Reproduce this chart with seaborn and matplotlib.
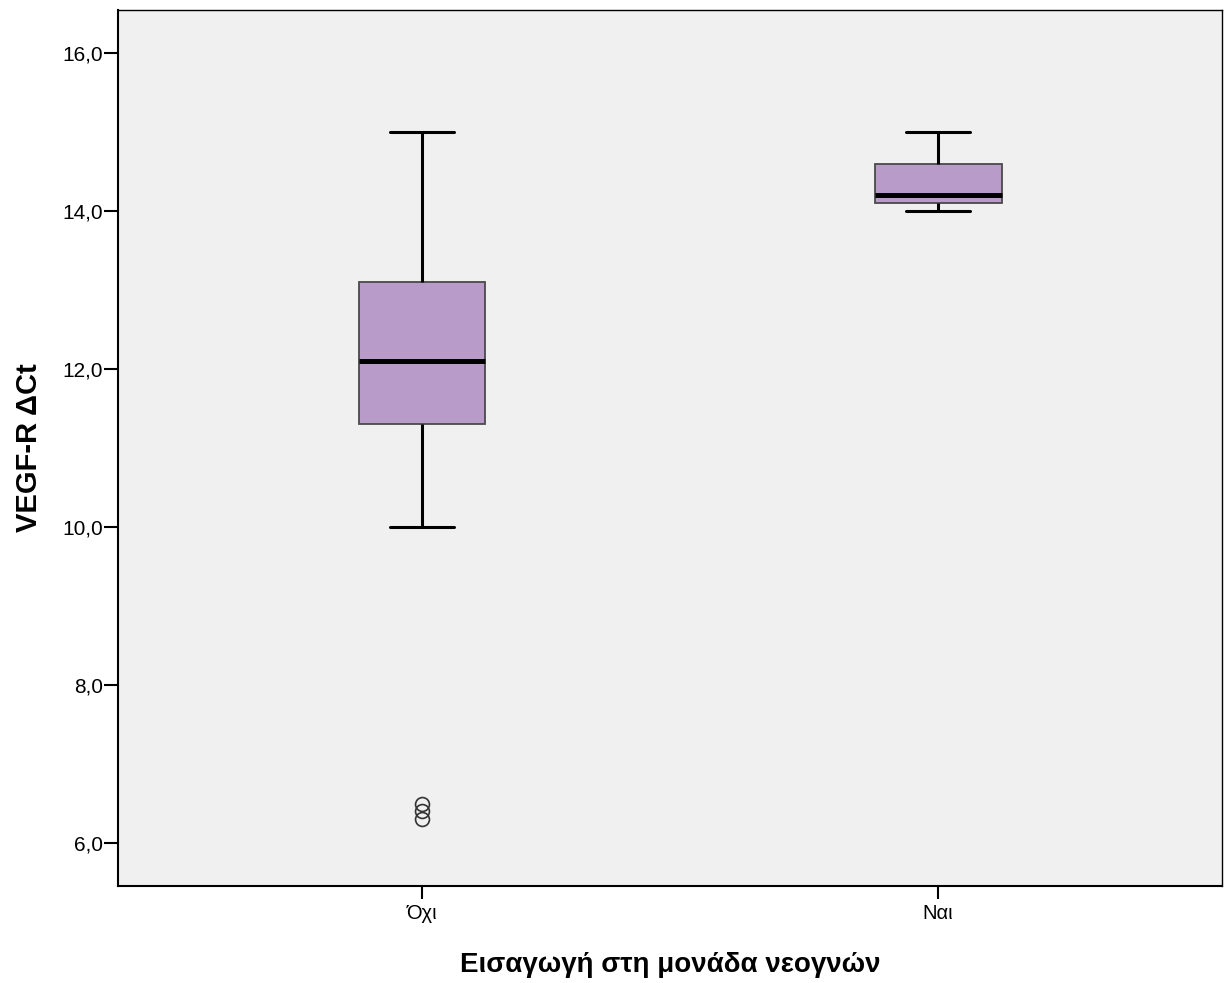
import matplotlib
matplotlib.use("Agg")
import matplotlib.pyplot as plt
from matplotlib.ticker import FuncFormatter, FixedLocator
import seaborn as sns
import pandas as pd

# Data
categories = ["Όχι", "Ναι"]
values_ochi = [6.3, 6.4, 6.5, 10.0, 11.3, 11.5, 11.8, 12.0, 12.1, 12.3,
               12.6, 12.9, 13.1, 13.5, 14.0, 14.5, 15.0]
values_nai = [14.0, 14.05, 14.1, 14.15, 14.2, 14.4, 14.6, 14.8, 15.0]
y_ticks = [6.0, 8.0, 10.0, 12.0, 14.0, 16.0]

df = pd.DataFrame({
    "group": [categories[0]] * len(values_ochi) + [categories[1]] * len(values_nai),
    "value": values_ochi + values_nai,
})

sns.set_style("white")
plt.rcParams["font.family"] = ["Liberation Sans", "DejaVu Sans"]
plt.rcParams["text.color"] = "black"
plt.rcParams["axes.labelcolor"] = "black"
plt.rcParams["xtick.color"] = "black"
plt.rcParams["ytick.color"] = "black"

fig = plt.figure(figsize=(12.29, 9.83), dpi=100)
ax = fig.add_axes([118 / 1229, 1 - 886 / 983, (1222 - 118) / 1229, (886 - 10) / 983])
ax.set_facecolor("#F0F0F0")

sns.boxplot(
    data=df, x="group", y="value", order=categories, ax=ax,
    color="#B89BC9", saturation=1, width=0.246, whis=1.5,
    linecolor="black", linewidth=2.2,
    boxprops={"edgecolor": "#4a4a4a", "linewidth": 1.3},
    medianprops={"color": "black", "linewidth": 3.6},
    whiskerprops={"color": "black", "linewidth": 2.2},
    capprops={"color": "black", "linewidth": 2.2},
    flierprops={"marker": "o", "markerfacecolor": "none",
                "markeredgecolor": "#333333", "markersize": 10,
                "markeredgewidth": 1.2},
)

ax.set_xlim(-0.589, 1.55)
ax.set_ylim(5.456, 16.544)
ax.yaxis.set_major_locator(FixedLocator(y_ticks))
ax.yaxis.set_major_formatter(FuncFormatter(lambda v, p: f"{v:.1f}".replace(".", ",")))

for s in ax.spines.values():
    s.set_visible(True)
    s.set_color("black")
    s.set_linewidth(1.0)
ax.spines["left"].set_linewidth(1.5)
ax.spines["bottom"].set_linewidth(1.5)

ax.tick_params(axis="y", direction="out", length=10, width=1.5, color="black",
               labelsize=15, labelcolor="black", left=True, pad=1)
ax.tick_params(axis="x", direction="out", length=9, width=1.5, color="black",
               labelsize=14.5, labelcolor="black", bottom=True, pad=4)

ax.set_xlabel("Εισαγωγή στη μονάδα νεογνών", fontsize=20, fontweight="bold",
              labelpad=21, color="black")
ax.set_ylabel("VEGF-R ΔCt", fontsize=21, fontweight="bold", labelpad=14,
              color="black")

fig.savefig("out.png", dpi=100, facecolor="white")
